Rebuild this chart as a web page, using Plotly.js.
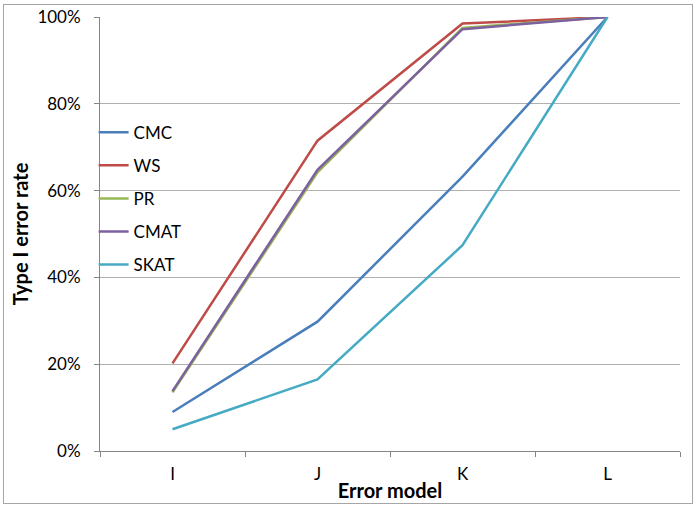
<!DOCTYPE html>
<html>
<head>
<meta charset="utf-8">
<script src="https://cdn.plot.ly/plotly-3.0.1.min.js"></script>
<style>
  body { margin: 0; background: #fff; }
  #chart { width: 699px; height: 509px; }
  #frame { position: absolute; left: 3px; top: 4px; width: 688px; height: 498px;
           border: 1px solid #a6a6a6; pointer-events: none; }
</style>
</head>
<body>
<div id="chart"></div>
<div id="frame"></div>
<script>
var categories = ['I', 'J', 'K', 'L'];
var seriesNames = ['CMC', 'WS', 'PR', 'CMAT', 'SKAT'];
var cmc  = [0.090, 0.298, 0.632, 1.0];
var ws   = [0.202, 0.715, 0.985, 1.0];
var pr   = [0.135, 0.642, 0.975, 1.0];
var cmat = [0.138, 0.648, 0.972, 1.0];
var skat = [0.050, 0.165, 0.474, 1.0];
var colors = ['#4a7ebb', '#be4b48', '#98b954', '#7d60a0', '#46aac5'];

var values = [cmc, ws, pr, cmat, skat];
var font = 'Lato, "Open Sans", sans-serif';

var data = [];
for (var i = 0; i < values.length; i++) {
  data.push({
    x: categories,
    y: values[i],
    name: seriesNames[i],
    legendgroup: seriesNames[i],
    mode: 'lines',
    line: {color: colors[i], width: 2.5}
  });
}

var layout = {
  width: 699,
  height: 509,
  margin: {l: 100, r: 19, t: 17, b: 58},
  paper_bgcolor: '#fff',
  plot_bgcolor: '#fff',
  font: {family: font, size: 17, color: '#000'},
  showlegend: true,
  legend: {
    x: -0.011, y: 0.775, xanchor: 'left', yanchor: 'top',
    bgcolor: 'rgba(0,0,0,0)',
    traceorder: 'grouped',
    tracegroupgap: 8,
    itemwidth: 30,
    font: {family: font, size: 17}
  },
  xaxis: {
    type: 'category',
    range: [-0.5, 3.5],
    showgrid: false,
    showline: true,
    linecolor: '#868686',
    linewidth: 1,
    ticks: 'outside',
    tickson: 'boundaries',
    ticklen: 5,
    tickcolor: '#868686',
    ticklabelstandoff: 8,
    title: {text: 'Error model', font: {family: font, size: 20, weight: 'bold'}, standoff: 0}
  },
  yaxis: {
    range: [0, 1],
    dtick: 0.2,
    tickformat: '.0%',
    showgrid: true,
    gridcolor: '#b0b0b0',
    zeroline: false,
    showline: true,
    linecolor: '#868686',
    linewidth: 1,
    ticks: 'outside',
    ticklen: 5,
    tickcolor: '#868686',
    ticklabelstandoff: 10,
    title: {text: 'Type I error rate', font: {family: font, size: 20, weight: 'bold'}, standoff: 3}
  }
};

Plotly.newPlot('chart', data, layout, {displayModeBar: false});
</script>
</body>
</html>
